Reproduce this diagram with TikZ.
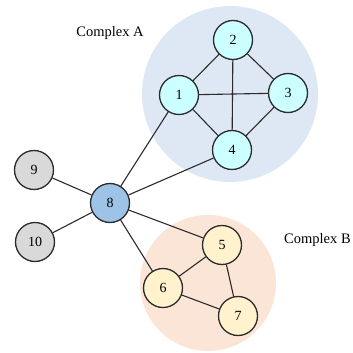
\documentclass[tikz,border=0pt]{standalone}
\usepackage{fontspec}
\setmainfont{Liberation Serif}
\definecolor{cAbg}{HTML}{DEE8F4}
\definecolor{cBbg}{HTML}{FBE5D6}
\definecolor{nA}{HTML}{CCFFFF}
\definecolor{nB}{HTML}{FFF2CC}
\definecolor{nHub}{HTML}{9DC3E6}
\definecolor{nGray}{HTML}{D9D9D9}
\definecolor{edgec}{HTML}{2B2B2B}
\begin{document}
\begin{tikzpicture}[x=1pt,y=-1pt,
  vert/.style={circle,draw=edgec,line width=1.3pt,minimum size=39pt,inner sep=0pt,font=\fontsize{14}{14}\selectfont},
  aN/.style={vert,fill=nA},
  bN/.style={vert,fill=nB},
  hubN/.style={vert,fill=nHub},
  grayN/.style={vert,fill=nGray},
  lnk/.style={draw=edgec,line width=1.1pt},
  lbl/.style={font=\fontsize{14.5}{14.5}\selectfont,inner sep=0pt}]
\useasboundingbox (0,0) rectangle (353,353);
\fill[cAbg] (230,94) circle (88);
\fill[cBbg] (208,283) circle (68);
\node[lbl] (labA) at (110,33) {Complex A};
\node[lbl,anchor=west] (labB) at (284,240) {Complex B};
\node[aN] (n1) at (179,95) {1};
\node[aN] (n2) at (233,40) {2};
\node[aN] (n3) at (288,93) {3};
\node[aN] (n4) at (232,150) {4};
\node[bN] (n5) at (222,245) {5};
\node[bN] (n6) at (163,288) {6};
\node[bN] (n7) at (238,316) {7};
\node[hubN] (n8) at (110,203) {8};
\node[grayN] (n9) at (34,170) {9};
\node[grayN] (n10) at (35,242) {10};
\path[lnk] (n1) -- (n2) (n2) -- (n3) (n1) -- (n3) (n1) -- (n4) (n3) -- (n4) (n2) -- (n4)
  (n8) -- (n1) (n8) -- (n4) (n8) -- (n9) (n8) -- (n10) (n8) -- (n5) (n8) -- (n6)
  (n5) -- (n6) (n5) -- (n7) (n6) -- (n7);
\end{tikzpicture}
\end{document}
